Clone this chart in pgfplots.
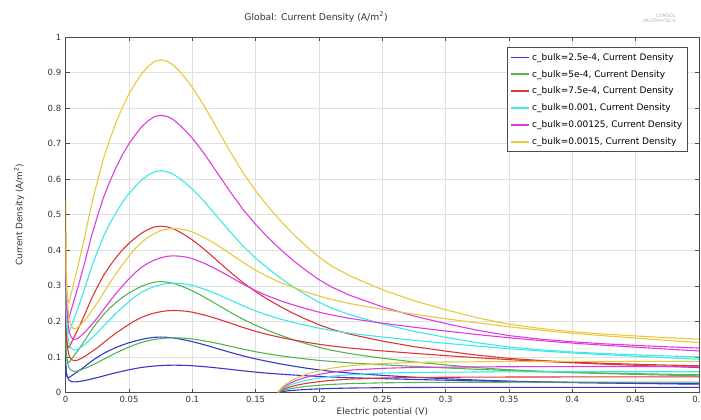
\documentclass[border=0pt]{standalone}
\usepackage{pgfplots}
\pgfplotsset{compat=1.18}
\usepackage{pgfplotstable}
\usepackage{fontspec}
\setmainfont{DejaVu Sans}
\definecolor{cblue}{RGB}{55,55,205}
\definecolor{cgreen}{RGB}{85,180,85}
\definecolor{cred}{RGB}{220,55,55}
\definecolor{ccyan}{RGB}{60,232,232}
\definecolor{cmag}{RGB}{222,60,222}
\definecolor{cyel}{RGB}{232,200,60}
\pgfplotstableread{
x y1 y2 y3 y4 y5 y6
0 0.090 0.180 0.270 0.360 0.450 0.540
0.0004 0.060 0.120 0.180 0.240 0.300 0.360
0.001 0.047 0.094 0.141 0.188 0.235 0.282
0.002 0.042 0.084 0.126 0.168 0.210 0.252
0.003 0.043 0.086 0.129 0.172 0.215 0.258
0.005 0.048 0.096 0.144 0.192 0.240 0.288
0.0075 0.054 0.108 0.162 0.216 0.270 0.324
0.01 0.060 0.120 0.180 0.240 0.300 0.360
0.015 0.073 0.146 0.219 0.292 0.365 0.438
0.02 0.087 0.174 0.261 0.348 0.435 0.522
0.025 0.099 0.198 0.297 0.396 0.495 0.594
0.03 0.110 0.220 0.330 0.440 0.550 0.660
0.035 0.119 0.238 0.357 0.476 0.595 0.714
0.04 0.127 0.254 0.381 0.508 0.635 0.762
0.045 0.134 0.268 0.402 0.536 0.670 0.804
0.05 0.140 0.280 0.420 0.560 0.700 0.840
0.055 0.145 0.290 0.435 0.580 0.725 0.870
0.06 0.1495 0.299 0.4485 0.598 0.7475 0.897
0.065 0.1528 0.3056 0.4584 0.6112 0.764 0.9168
0.07 0.1552 0.3104 0.4656 0.6208 0.776 0.9312
0.075 0.156 0.312 0.468 0.624 0.780 0.936
0.08 0.1553 0.3106 0.4659 0.6212 0.7765 0.9318
0.085 0.1535 0.307 0.4605 0.614 0.7675 0.921
0.09 0.1505 0.301 0.4515 0.602 0.7525 0.903
0.095 0.147 0.294 0.441 0.588 0.735 0.882
0.10 0.143 0.286 0.429 0.572 0.715 0.858
0.105 0.1385 0.277 0.4155 0.554 0.6925 0.831
0.11 0.1337 0.2674 0.4011 0.5348 0.6685 0.8022
0.115 0.1285 0.257 0.3855 0.514 0.6425 0.771
0.12 0.1232 0.2464 0.3696 0.4928 0.616 0.7392
0.13 0.1128 0.2256 0.3384 0.4512 0.564 0.6768
0.14 0.103 0.206 0.309 0.412 0.515 0.618
0.15 0.0945 0.189 0.2835 0.378 0.4725 0.567
0.16 0.087 0.174 0.261 0.348 0.435 0.522
0.17 0.0802 0.1604 0.2406 0.3208 0.401 0.4812
0.18 0.074 0.148 0.222 0.296 0.370 0.444
0.19 0.0685 0.137 0.2055 0.274 0.3425 0.411
0.20 0.0635 0.127 0.1905 0.254 0.3175 0.381
0.21 0.0593 0.1186 0.1779 0.2372 0.2965 0.3558
0.225 0.0545 0.109 0.1635 0.218 0.2725 0.327
0.25 0.0482 0.0964 0.1446 0.1928 0.241 0.2892
0.275 0.043 0.086 0.129 0.172 0.215 0.258
0.30 0.0388 0.0776 0.1164 0.1552 0.194 0.2328
0.325 0.035 0.070 0.105 0.140 0.175 0.210
0.35 0.032 0.064 0.096 0.128 0.160 0.192
0.375 0.030 0.060 0.090 0.120 0.150 0.180
0.40 0.0285 0.057 0.0855 0.114 0.1425 0.171
0.425 0.0274 0.0548 0.0822 0.1096 0.137 0.1644
0.45 0.0265 0.053 0.0795 0.106 0.1325 0.159
0.475 0.0257 0.0514 0.0771 0.1028 0.1285 0.1542
0.50 0.025 0.050 0.075 0.100 0.125 0.150
}\tabA
\pgfplotstableread{
x y1 y2 y3 y4 y5 y6
0 0.075 0.150 0.225 0.300 0.375 0.450
0.0005 0.055 0.110 0.165 0.220 0.275 0.330
0.001 0.046 0.092 0.138 0.184 0.230 0.276
0.002 0.038 0.076 0.114 0.152 0.190 0.228
0.003 0.0335 0.067 0.1005 0.134 0.1675 0.201
0.0045 0.031 0.062 0.093 0.124 0.155 0.186
0.0065 0.0298 0.0596 0.0894 0.1192 0.149 0.1788
0.009 0.0302 0.0604 0.0906 0.1208 0.151 0.1812
0.012 0.0318 0.0636 0.0954 0.1272 0.159 0.1908
0.016 0.0345 0.069 0.1035 0.138 0.1725 0.207
0.02 0.0378 0.0756 0.1134 0.1512 0.189 0.2268
0.025 0.042 0.084 0.126 0.168 0.210 0.252
0.03 0.0468 0.0936 0.1404 0.1872 0.234 0.2808
0.035 0.0515 0.103 0.1545 0.206 0.2575 0.309
0.04 0.056 0.112 0.168 0.224 0.280 0.336
0.045 0.060 0.120 0.180 0.240 0.300 0.360
0.05 0.064 0.128 0.192 0.256 0.320 0.384
0.055 0.0675 0.135 0.2025 0.270 0.3375 0.405
0.06 0.0705 0.141 0.2115 0.282 0.3525 0.423
0.065 0.0728 0.1456 0.2184 0.2912 0.364 0.4368
0.07 0.0745 0.149 0.2235 0.298 0.3725 0.447
0.075 0.0758 0.1516 0.2274 0.3032 0.379 0.4548
0.08 0.0766 0.1532 0.2298 0.3064 0.383 0.4596
0.085 0.0769 0.1538 0.2307 0.3076 0.3845 0.4614
0.09 0.0767 0.1534 0.2301 0.3068 0.3835 0.4602
0.095 0.0762 0.1524 0.2286 0.3048 0.381 0.4572
0.10 0.0753 0.1506 0.2259 0.3012 0.3765 0.4518
0.11 0.0725 0.145 0.2175 0.290 0.3625 0.435
0.12 0.069 0.138 0.207 0.276 0.345 0.414
0.13 0.065 0.130 0.195 0.260 0.325 0.390
0.14 0.061 0.122 0.183 0.244 0.305 0.366
0.15 0.0573 0.1146 0.1719 0.2292 0.2865 0.3438
0.16 0.0542 0.1084 0.1626 0.2168 0.271 0.3252
0.17 0.0515 0.103 0.1545 0.206 0.2575 0.309
0.18 0.0492 0.0984 0.1476 0.1968 0.246 0.2952
0.19 0.0471 0.0942 0.1413 0.1884 0.2355 0.2826
0.20 0.0452 0.0904 0.1356 0.1808 0.226 0.2712
0.21 0.0436 0.0872 0.1308 0.1744 0.218 0.2616
0.225 0.0416 0.0832 0.1248 0.1664 0.208 0.2496
0.25 0.039 0.078 0.117 0.156 0.195 0.234
0.275 0.0367 0.0734 0.1101 0.1468 0.1835 0.2202
0.30 0.0346 0.0692 0.1038 0.1384 0.173 0.2076
0.325 0.0326 0.0652 0.0978 0.1304 0.163 0.1956
0.35 0.0308 0.0616 0.0924 0.1232 0.154 0.1848
0.375 0.0292 0.0584 0.0876 0.1168 0.146 0.1752
0.40 0.0278 0.0556 0.0834 0.1112 0.139 0.1668
0.425 0.0266 0.0532 0.0798 0.1064 0.133 0.1596
0.45 0.0255 0.051 0.0765 0.102 0.1275 0.153
0.475 0.0244 0.0488 0.0732 0.0976 0.122 0.1464
0.50 0.0234 0.0468 0.0702 0.0936 0.117 0.1404
}\tabB
\pgfplotstableread{
x y1 y2 y3 y4 y5 y6
0.1675 0 0 0 0 0 0
0.169 0.0012 0.0024 0.0036 0.0048 0.006 0.0072
0.171 0.0025 0.005 0.0075 0.010 0.0125 0.015
0.174 0.004 0.008 0.012 0.016 0.020 0.024
0.178 0.0055 0.011 0.0165 0.022 0.0275 0.033
0.183 0.007 0.014 0.021 0.028 0.035 0.042
0.19 0.0086 0.0172 0.0258 0.0344 0.043 0.0516
0.20 0.0102 0.0204 0.0306 0.0408 0.051 0.0612
0.21 0.0114 0.0228 0.0342 0.0456 0.057 0.0684
0.225 0.0126 0.0252 0.0378 0.0504 0.063 0.0756
0.25 0.0136 0.0272 0.0408 0.0544 0.068 0.0816
0.275 0.0141 0.0282 0.0423 0.0564 0.0705 0.0846
0.30 0.0143 0.0286 0.0429 0.0572 0.0715 0.0858
0.35 0.0145 0.029 0.0435 0.058 0.0725 0.087
0.40 0.0146 0.0292 0.0438 0.0584 0.073 0.0876
0.50 0.0146 0.0292 0.0438 0.0584 0.073 0.0876
}\tabC
\begin{document}
\begin{tikzpicture}
\begin{axis}[
  name=ax,
  width=633.3pt, height=355.5pt, scale only axis,
  xmin=0, xmax=0.5, ymin=0, ymax=1,
  xtick={0,0.05,0.1,0.15,0.2,0.25,0.3,0.35,0.4,0.45,0.5},
  ytick={0,0.1,0.2,0.3,0.4,0.5,0.6,0.7,0.8,0.9,1},
  /pgf/number format/.cd, fixed, precision=2, assume math mode=true,
  /pgfplots/.cd,
  tick label style={font=\fontsize{8.5}{10}\selectfont, text=black!80},
  xticklabel style={yshift=-0.5pt},
  yticklabel style={xshift=-1pt},
  tick align=inside, major tick length=4pt,
  tick style={black!70, line width=0.6pt},
  axis line style={black!70, line width=0.9pt},
  grid=major, major grid style={black!12, line width=0.5pt},
  xlabel={Electric potential (V)},
  ylabel={Current Density (A/m\textsuperscript{2})},
  label style={font=\fontsize{8.9}{10}\selectfont, text=black!80},
  xlabel style={at={(axis description cs:0.5,-0.056)}, anchor=center},
  ylabel style={at={(axis description cs:-0.0737,0.5)}, anchor=center},
  legend cell align=left,
  legend style={at={(0.697,0.972)}, anchor=north west, draw=black!70, line width=0.8pt,
    font=\fontsize{9}{10.5}\selectfont, row sep=4.5pt, inner xsep=3pt, inner ysep=4pt,
    /tikz/every even column/.append style={column sep=2pt}},
  legend image code/.code={\draw[#1, line width=1.8pt] (0cm,0cm) -- (0.63cm,0cm);},
  every axis plot/.append style={line width=1.1pt, line join=round},
  clip=true,
]
\addlegendimage{cblue}\addlegendentry{c\_bulk=2.5e-4, Current Density}
\addlegendimage{cgreen}\addlegendentry{c\_bulk=5e-4, Current Density}
\addlegendimage{cred}\addlegendentry{c\_bulk=7.5e-4, Current Density}
\addlegendimage{ccyan}\addlegendentry{c\_bulk=0.001, Current Density}
\addlegendimage{cmag}\addlegendentry{c\_bulk=0.00125, Current Density}
\addlegendimage{cyel}\addlegendentry{c\_bulk=0.0015, Current Density}
\addplot[cblue, forget plot] table[x=x,y=y1] {\tabA};
\addplot[cblue, forget plot] table[x=x,y=y1] {\tabB};
\addplot[cblue, forget plot] table[x=x,y=y1] {\tabC};
\addplot[cgreen, forget plot] table[x=x,y=y2] {\tabA};
\addplot[cgreen, forget plot] table[x=x,y=y2] {\tabB};
\addplot[cgreen, forget plot] table[x=x,y=y2] {\tabC};
\addplot[cred, forget plot] table[x=x,y=y3] {\tabA};
\addplot[cred, forget plot] table[x=x,y=y3] {\tabB};
\addplot[cred, forget plot] table[x=x,y=y3] {\tabC};
\addplot[ccyan, forget plot] table[x=x,y=y4] {\tabA};
\addplot[ccyan, forget plot] table[x=x,y=y4] {\tabB};
\addplot[ccyan, forget plot] table[x=x,y=y4] {\tabC};
\addplot[cmag, forget plot] table[x=x,y=y5] {\tabA};
\addplot[cmag, forget plot] table[x=x,y=y5] {\tabB};
\addplot[cmag, forget plot] table[x=x,y=y5] {\tabC};
\addplot[cyel, forget plot] table[x=x,y=y6] {\tabA};
\addplot[cyel, forget plot] table[x=x,y=y6] {\tabB};
\addplot[cyel, forget plot] table[x=x,y=y6] {\tabC};
\end{axis}
\node[font=\fontsize{9.3}{11}\selectfont, text=black!80, anchor=center] at ([shift={(250.3pt,20pt)}]ax.north west) {Global: Current Density (A/m\textsuperscript{2})};
\node[font=\fontsize{4.5}{5}\selectfont, text=black!30, align=right, anchor=east] at ([shift={(-20pt,18.5pt)}]ax.north east) {COMSOL\\MULTIPHYSICS};
\pgfresetboundingbox
\path ([shift={(-65.7pt,-26.5pt)}]ax.south west) rectangle ([shift={(2pt,37pt)}]ax.north east);
\end{tikzpicture}
\end{document}
